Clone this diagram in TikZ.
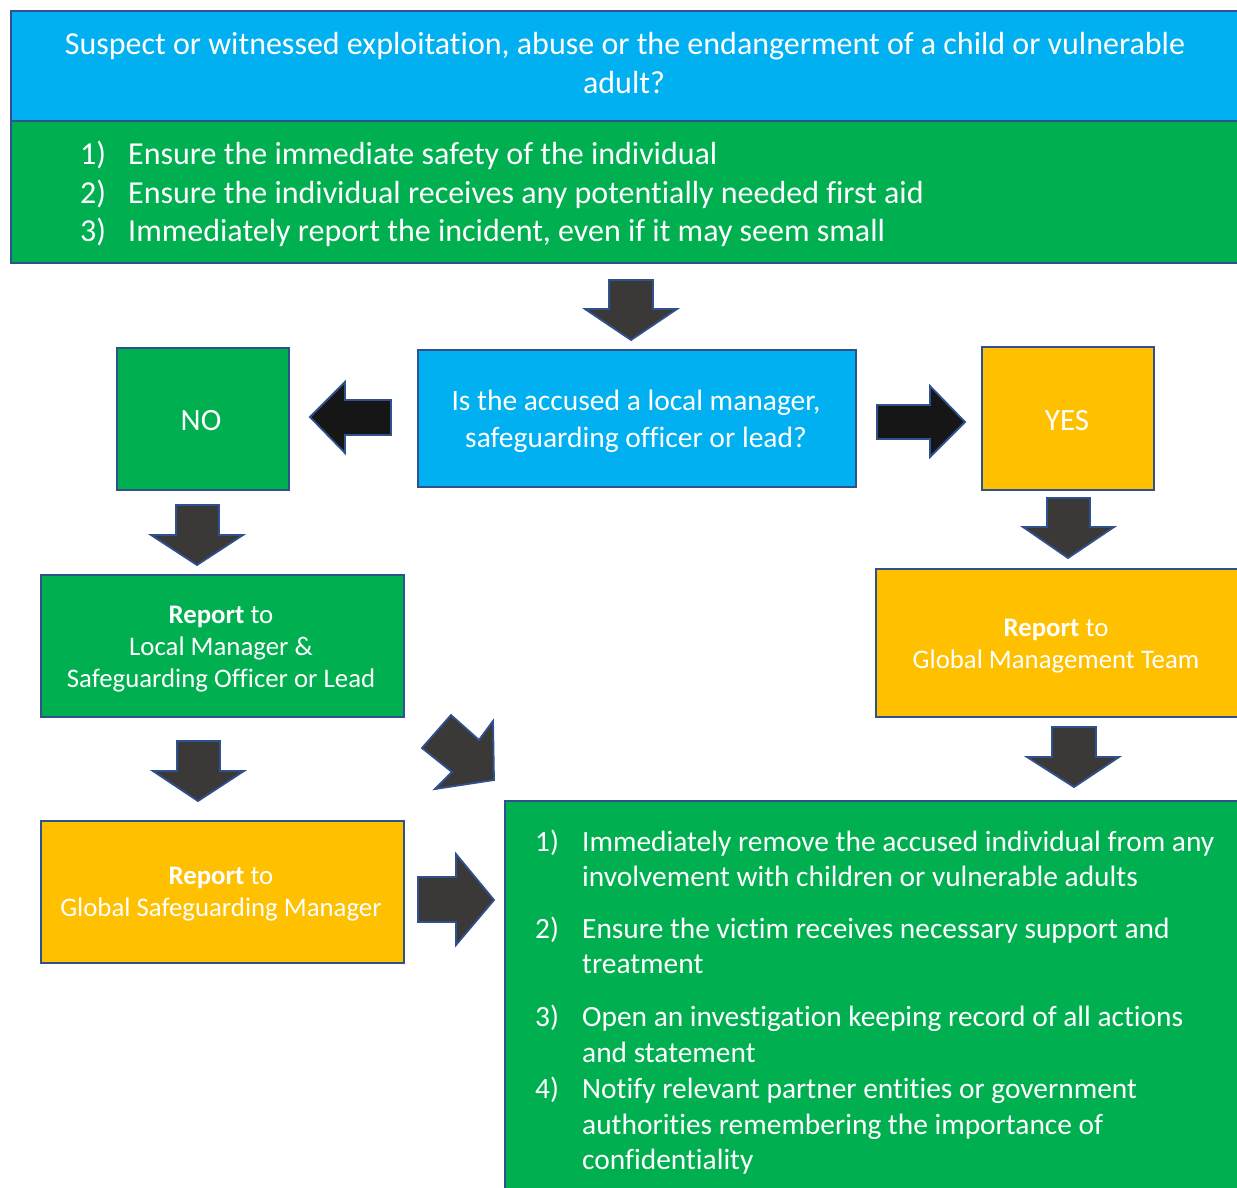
\documentclass[tikz,border=0pt]{standalone}
\usepackage{fontspec}
\setmainfont{Carlito}[RawFeature={-liga;-clig;-calt;-dlig}]
\definecolor{cblue}{HTML}{00B0F0}
\definecolor{cgreen}{HTML}{00B050}
\definecolor{cyellow}{HTML}{FFC000}
\definecolor{bord}{HTML}{2F528F}
\definecolor{agray}{HTML}{3B3838}
\definecolor{ablack}{HTML}{161616}
\begin{document}
\begin{tikzpicture}[x=1pt,y=-1pt,
  box/.style={draw=bord, line width=2.4pt, inner sep=0pt, anchor=north west},
  txt/.style={text=white, inner sep=0pt},
  ttl/.style={txt, font=\fontsize{32}{38}\selectfont},
  lst/.style={txt, font=\fontsize{32}{38}\selectfont, anchor=base west},
  qst/.style={txt, font=\fontsize{29.5}{35}\selectfont, anchor=base},
  yn/.style={txt, font=\fontsize{31}{37}\selectfont, anchor=base},
  rep/.style={txt, font=\fontsize{26.8}{32}\selectfont, anchor=base},
  blst/.style={txt, font=\fontsize{29.4}{35}\selectfont, anchor=base west},
  barrow/.style={draw=bord, line width=1.8pt, line join=miter, fill=agray},
  karrow/.style={draw=bord, line width=1.8pt, line join=miter, fill=ablack}]
\useasboundingbox (0,0) rectangle (1237,1187);
\clip (0,0) rectangle (1237,1187);
\fill[white] (0,0) rectangle (1237,1187);

% boxes
\node[box, fill=cblue, minimum width=1235pt, minimum height=110pt] (top) at (10,10) {};
\node[box, fill=cgreen, minimum width=1235pt, minimum height=142pt] (steps) at (10,120) {};
\node[box, fill=cblue, minimum width=438pt, minimum height=137pt] (q) at (417,349) {};
\node[box, fill=cgreen, minimum width=172pt, minimum height=142pt] (no) at (116,347) {};
\node[box, fill=cyellow, minimum width=172pt, minimum height=143pt] (yes) at (981,346) {};
\node[box, fill=cgreen, minimum width=363pt, minimum height=142pt] (local) at (40,574) {};
\node[box, fill=cyellow, minimum width=370pt, minimum height=148pt] (gmt) at (875,568) {};
\node[box, fill=cyellow, minimum width=363pt, minimum height=142pt] (gsm) at (40,820) {};
\node[box, fill=cgreen, minimum width=741pt, minimum height=395pt] (actions) at (504,800) {};

% texts
\node[ttl, anchor=base] (t1) at (625,54) {Suspect or witnessed exploitation, abuse or the endangerment of a child or vulnerable};
\node[ttl, anchor=base] (t2) at (624,93) {adult?};

\node[lst] (s1n) at (80,164) {1)};
\node[lst] (s1) at (128,164) {Ensure the immediate safety of the individual};
\node[lst] (s2n) at (80,203) {2)};
\node[lst] (s2) at (128,203) {Ensure the individual receives any potentially needed first aid};
\node[lst] (s3n) at (80,241) {3)};
\node[lst] (s3) at (128,241) {Immediately report the incident, even if it may seem small};

\node[qst] (q1) at (636,410) {Is the accused a local manager,};
\node[qst] (q2) at (636,447) {safeguarding officer or lead?};

\node[yn] (notxt) at (201,430) {NO};
\node[yn] (yestxt) at (1067,430) {YES};

\node[rep] (l1) at (221,623) {\textbf{Report} to};
\node[rep] (l2) at (221,655) {Local Manager \&};
\node[rep] (l3) at (221,687) {Safeguarding Officer or Lead};

\node[rep] (g1) at (1056,636) {\textbf{Report} to};
\node[rep] (g2) at (1056,668) {Global Management Team};

\node[rep] (m1) at (221,884) {\textbf{Report} to};
\node[rep] (m2) at (221,916) {Global Safeguarding Manager};

\node[blst] (a1n) at (535,851) {1)};
\node[blst] (a1) at (582,851) {Immediately remove the accused individual from any};
\node[blst] (a1b) at (582,886) {involvement with children or vulnerable adults};
\node[blst] (a2n) at (535,938) {2)};
\node[blst] (a2) at (582,938) {Ensure the victim receives necessary support and};
\node[blst] (a2b) at (582,973) {treatment};
\node[blst] (a3n) at (535,1026) {3)};
\node[blst] (a3) at (582,1026) {Open an investigation keeping record of all actions};
\node[blst] (a3b) at (582,1062) {and statement};
\node[blst] (a4n) at (535,1098) {4)};
\node[blst] (a4) at (582,1098) {Notify relevant partner entities or government};
\node[blst] (a4b) at (582,1134) {authorities remembering the importance of};
\node[blst] (a4c) at (582,1169) {confidentiality};

% block arrows
\draw[barrow] (609,280) -- (653,280) -- (653,309) -- (677,309) -- (631,340) -- (585,309) -- (609,309) -- cycle;
\draw[barrow] (176,505) -- (219,505) -- (219,535) -- (243,535) -- (197,565) -- (151,535) -- (176,535) -- cycle;
\draw[barrow] (1047,498) -- (1090,498) -- (1090,527) -- (1114,527) -- (1068,558) -- (1023,527) -- (1047,527) -- cycle;
\draw[barrow] (177,741) -- (220,741) -- (220,771) -- (244,771) -- (198,801) -- (153,771) -- (177,771) -- cycle;
\draw[barrow] (1052,727) -- (1096,727) -- (1096,757) -- (1119,757) -- (1074,787) -- (1027,757) -- (1052,757) -- cycle;
\draw[karrow] (391,400) -- (345,400) -- (345,382) -- (310,417) -- (345,453) -- (345,435) -- (391,435) -- cycle;
\draw[karrow] (877,405) -- (930,405) -- (930,386) -- (965,422) -- (930,457) -- (930,439) -- (877,439) -- cycle;
\draw[barrow] (418,877) -- (456,877) -- (456,854) -- (494,900) -- (456,945) -- (456,922) -- (418,922) -- cycle;
\draw[barrow] (422,748) -- (451,715) -- (479,740) -- (493,721) -- (494,780) -- (435,789) -- (452,772) -- cycle;
\end{tikzpicture}
\end{document}
